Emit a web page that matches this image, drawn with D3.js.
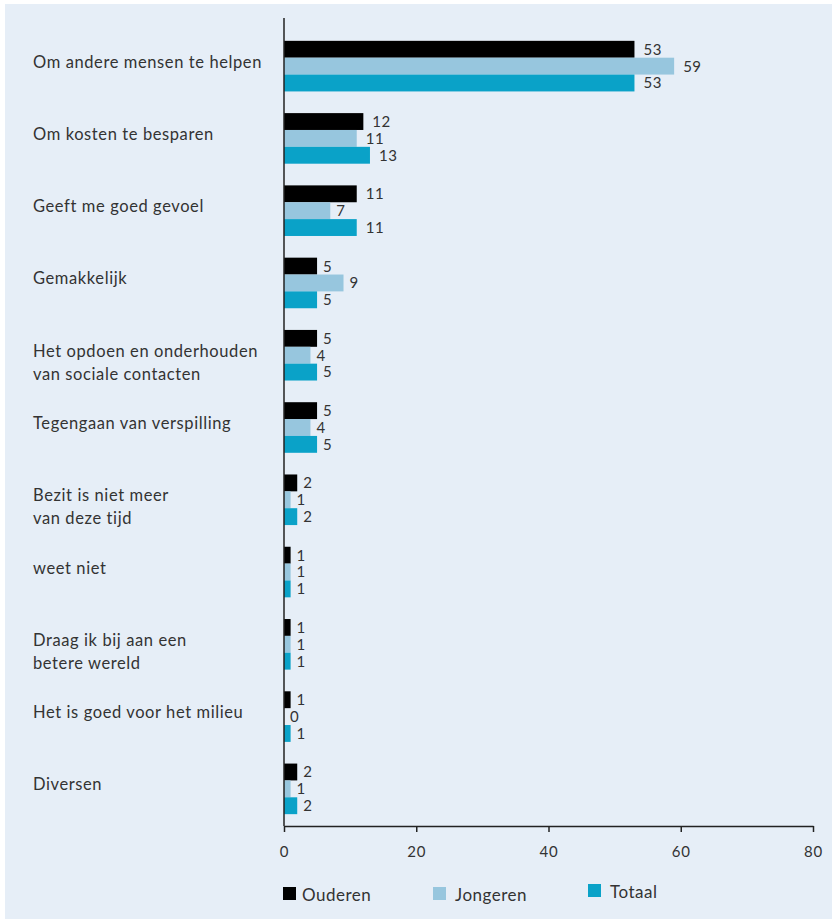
<!DOCTYPE html>
<html>
<head>
<meta charset="utf-8">
<script src="https://cdn.jsdelivr.net/npm/d3@7"></script>
<style>
  html, body { margin: 0; padding: 0; background: #fff; }
  svg { display: block; font-family: Lato, "Open Sans", sans-serif; }
</style>
</head>
<body>
<div id="chart"></div>
<script>
// categories, one entry per group (lines of the label)
const categories = [
  ['Om andere mensen te helpen'],
  ['Om kosten te besparen'],
  ['Geeft me goed gevoel'],
  ['Gemakkelijk'],
  ['Het opdoen en onderhouden', 'van sociale contacten'],
  ['Tegengaan van verspilling'],
  ['Bezit is niet meer', 'van deze tijd'],
  ['weet niet'],
  ['Draag ik bij aan een', 'betere wereld'],
  ['Het is goed voor het milieu'],
  ['Diversen'],
]
const seriesNames = ['Ouderen', 'Jongeren', 'Totaal']
const ouderen = [53, 12, 11, 5, 5, 5, 2, 1, 1, 1, 2]
const jongeren = [59, 11, 7, 9, 4, 4, 1, 1, 1, 0, 1]
const totaal = [53, 13, 11, 5, 5, 5, 2, 1, 1, 1, 2]
const xTicks = [0, 20, 40, 60, 80]

const colors = { Ouderen: '#000000', Jongeren: '#97c6de', Totaal: '#0aa2c8' }
const values = { Ouderen: ouderen, Jongeren: jongeren, Totaal: totaal }

const width = 832
const height = 919
const textColor = '#333'

const svg = d3.select('#chart').append('svg')
  .attr('width', width)
  .attr('height', height)

// panel background
svg.append('rect')
  .attr('x', 5).attr('y', 4)
  .attr('width', width - 5).attr('height', height - 4)
  .attr('fill', '#e6eef7')

const x = d3.scaleLinear().domain([0, 80]).range([284, 813])
const y = d3.scaleBand()
  .domain(d3.range(categories.length))
  .range([30, 825])
  .paddingInner(0.3)
  .paddingOuter(0.15)
const ySub = d3.scaleBand().domain(seriesNames).range([0, y.bandwidth()])

const groups = svg.append('g').selectAll('g')
  .data(categories)
  .join('g')
  .attr('transform', (d, i) => `translate(0,${y(i)})`)

groups.selectAll('rect')
  .data((d, i) => seriesNames.map(s => ({ s, v: values[s][i] })))
  .join('rect')
  .attr('x', x(0))
  .attr('y', d => ySub(d.s))
  .attr('width', d => x(d.v) - x(0))
  .attr('height', ySub.bandwidth())
  .attr('fill', d => colors[d.s])

groups.selectAll('text.val')
  .data((d, i) => seriesNames.map(s => ({ s, v: values[s][i] })))
  .join('text')
  .attr('class', 'val')
  .attr('x', d => x(d.v) + (d.v >= 10 ? 9 : 6))
  .attr('y', d => ySub(d.s) + ySub.bandwidth() / 2)
  .attr('dy', '0.36em')
  .attr('font-size', 15)
  .attr('letter-spacing', 0.5)
  .attr('fill', textColor)
  .text(d => d.v)

// category labels
groups.append('text')
  .attr('x', 33)
  .attr('y', 21)
  .attr('font-size', 16.5)
  .attr('letter-spacing', 0.6)
  .attr('fill', textColor)
  .selectAll('tspan')
  .data(d => d)
  .join('tspan')
  .attr('x', 33)
  .attr('dy', (d, i) => i === 0 ? '0.35em' : 23)
  .text(d => d)

// axes
const xAxis = svg.append('g')
  .attr('transform', `translate(0,${826})`)
  .call(d3.axisBottom(x).tickValues(xTicks).tickSize(6).tickSizeOuter(0).tickPadding(14))
xAxis.select('.domain').attr('stroke', '#222').attr('stroke-width', 1.5)
xAxis.selectAll('.tick line').attr('stroke', '#222').attr('stroke-width', 1.5)
xAxis.selectAll('.tick text')
  .attr('font-size', 15)
  .attr('letter-spacing', 0.8)
  .attr('fill', textColor)
  .attr('font-family', 'Lato, sans-serif')

svg.append('line')
  .attr('x1', x(0)).attr('x2', x(0))
  .attr('y1', 18).attr('y2', 826)
  .attr('stroke', '#222')
  .attr('stroke-width', 1.5)

// legend
const legendX = [283, 433, 588]
const legendY = [887, 887, 884]
const legend = svg.append('g').selectAll('g')
  .data(seriesNames)
  .join('g')
  .attr('transform', (d, i) => `translate(${legendX[i]},${legendY[i]})`)
legend.append('rect')
  .attr('width', 13).attr('height', 13)
  .attr('fill', d => colors[d])
legend.append('text')
  .attr('x', d => d === 'Ouderen' ? 19 : 22)
  .attr('y', 7)
  .attr('dy', '0.4em')
  .attr('font-size', 17)
  .attr('letter-spacing', 0.5)
  .attr('fill', textColor)
  .text(d => d)
</script>
</body>
</html>
